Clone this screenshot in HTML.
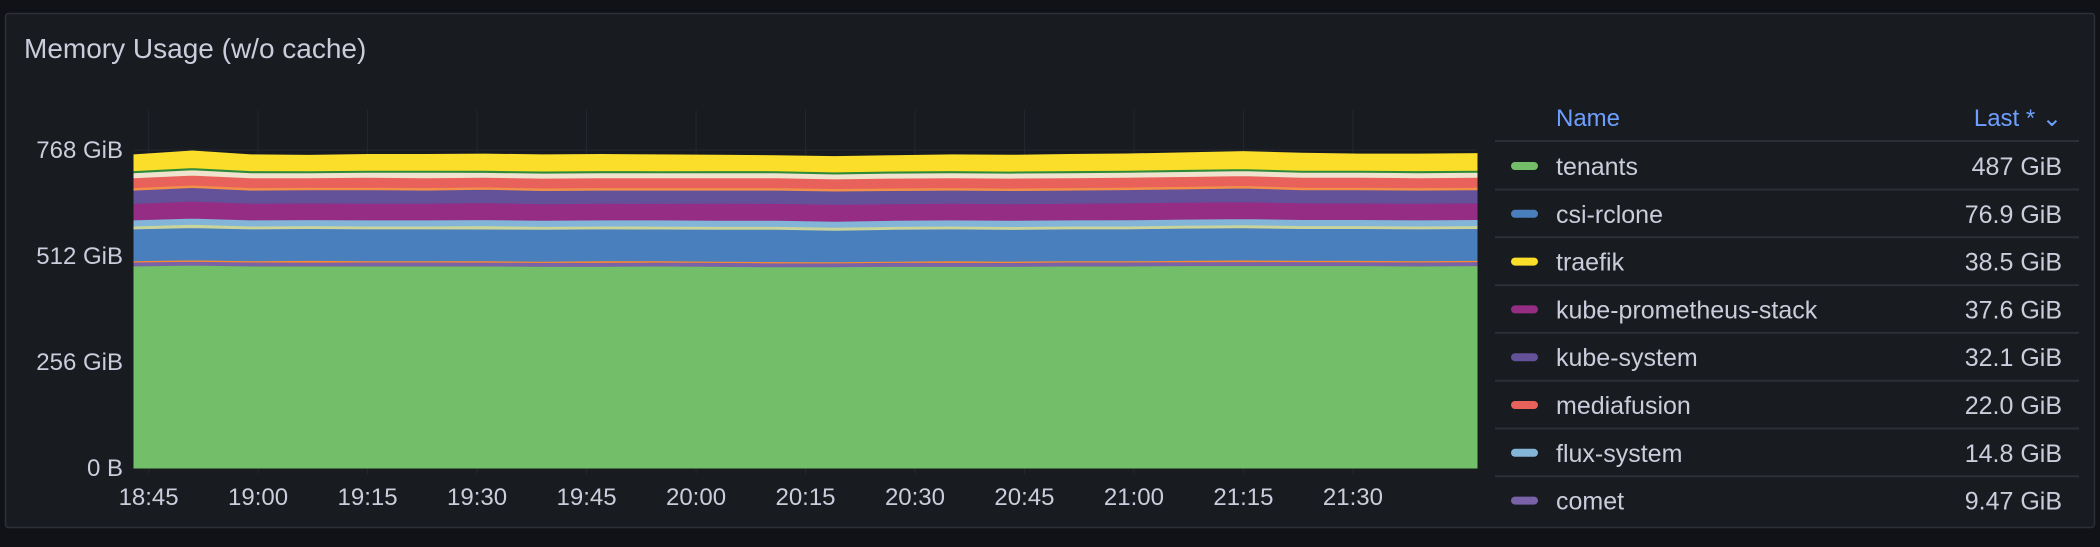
<!DOCTYPE html>
<html><head><meta charset="utf-8"><style>
html,body{margin:0;padding:0;background:#111217;}
body{width:2100px;height:542px;overflow:hidden;font-family:"Liberation Sans",sans-serif;}
svg text{font-family:"Liberation Sans",sans-serif;}
</style></head><body>
<svg id="chart" width="2100" height="542" viewBox="0 0 2100 542" xmlns="http://www.w3.org/2000/svg">
<rect x="5.5" y="13.5" width="2089" height="514" rx="3" fill="#181b1f" stroke="#2c2f35" stroke-width="1.5"/>
<text x="24" y="58" font-size="28" fill="#ccccdc" font-weight="500">Memory Usage (w/o cache)</text>
<g id="grid"></g><g id="areas"></g><g id="axes"></g><g id="legend"></g>
</svg>
<script>
const times=[0,8,16,24,32,40,48,56,64,72,80,88,96,104,112,120,128,136,144,152,160,168,176,184];
const xTickLabels=["18:45","19:00","19:15","19:30","19:45","20:00","20:15","20:30","20:45","21:00","21:15","21:30"];
const xTickMinutes=[2,17,32,47,62,77,92,107,122,137,152,167];
const yTickValues=[0,256,512,768];
const yTickLabels=["0 B","256 GiB","512 GiB","768 GiB"];
const seriesNames=["tenants","comet","other-a","csi-rclone","other-b","flux-system","kube-prometheus-stack","kube-system","other-c","mediafusion","other-d","other-e","traefik"];
const seriesColors=["#73bf69","#7a62a8","#ff8a2a","#4a7fbd","#c9d49a","#82b5d8","#952d85","#63519a","#f2904a","#e8615a","#efe3cd","#2f8a3a","#fade2a"];
const tenants=[488,490,488,488,488,488,488,487,487,488,487,486,486,487,487,487,488,488,489,489,489,489,488,489];
const comet=[9.5,9.6,9.5,9.4,9.5,9.5,9.4,9.5,9.5,9.4,9.5,9.5,9.4,9.5,9.5,9.4,9.5,9.5,9.4,9.5,9.5,9.4,9.5,9.5];
const otherA=[3,3,3,4,3,3,3,3,4,3,3,3,3,3,4,3,3,3,3,4,3,3,3,3];
const csiRclone=[77,78,77,77,77,77,77,77,77,77,77,78,76,77,77,77,77,77,78,78,77,77,77,77];
const otherB=[7,8,7,7,7,7,8,7,7,7,7,7,7,7,7,7,7,7,7,7,7,7,7,7];
const fluxSystem=[14.8,15,14.8,14.6,14.8,14.8,14.7,14.8,14.8,14.8,14.8,14.7,14.8,14.8,14.8,14.8,14.8,14.9,14.8,14.8,14.8,14.8,14.8,14.8];
const kubePrometheus=[40,41,40,40,40,40,41,40,40,40,41,41,41,40,40,40,40,41,41,41,40,40,40,40];
const kubeSystem=[32,33,32,32,33,32,32,32,32,32,32,32,32,32,32,32,32,32,32,33,32,32,32,32];
const otherC=[6,6,6,6,6,6,6,6,6,6,6,6,6,6,6,6,6,6,6,6,6,6,6,6];
const mediafusion=[24,24,24,23,24,24,23,24,24,24,24,24,23,24,24,24,24,24,24,24,24,24,24,24];
const otherD=[12,13,12,12,12,13,12,12,12,12,12,12,12,12,12,12,12,12,12,12,12,12,12,12];
const otherE=[5,5,5,5,5,5,5,5,5,5,5,5,5,5,5,5,5,5,5,5,5,5,5,5];
const traefik=[38,40,38,37,38,38,39,39,39,38,37,36,37,37,38,38,39,39,40,41,41,39,40,40];
const seriesValues=[tenants,comet,otherA,csiRclone,otherB,fluxSystem,kubePrometheus,kubeSystem,otherC,mediafusion,otherD,otherE,traefik];
const legendNames=["tenants","csi-rclone","traefik","kube-prometheus-stack","kube-system","mediafusion","flux-system","comet"];
const legendColors=["#73bf69","#4a7fbd","#fade2a","#952d85","#63519a","#e8615a","#82b5d8","#7a62a8"];
const legendValues=["487 GiB","76.9 GiB","38.5 GiB","37.6 GiB","32.1 GiB","22.0 GiB","14.8 GiB","9.47 GiB"];

const NS="http://www.w3.org/2000/svg";
const X0=134,X1=1477,Y0=468,YTOP=110,TMAX=184,PXG=0.414;
function xs(t){return X0+(t/TMAX)*(X1-X0);}
function ys(v){return Y0-v*PXG;}
function mk(tag,attrs,parent){const e=document.createElementNS(NS,tag);for(const k in attrs)e.setAttribute(k,attrs[k]);parent.appendChild(e);return e;}
const grid=document.getElementById('grid'),areas=document.getElementById('areas'),axes=document.getElementById('axes'),legend=document.getElementById('legend');

yTickValues.forEach((v,i)=>{
  const l=mk('line',{x1:X0,x2:X1,y1:ys(v),y2:ys(v),stroke:'#24272d','stroke-width':1},grid);
  
  
  const t=mk('text',{x:123,y:ys(v)+8,'text-anchor':'end','font-size':24,fill:'#ccccdc'},axes);
  t.textContent=yTickLabels[i];
  
  
});
xTickMinutes.forEach((m,i)=>{
  const l=mk('line',{x1:xs(m),x2:xs(m),y1:YTOP,y2:Y0+6,stroke:'#24272d','stroke-width':1},grid);
  
  
  const t=mk('text',{x:xs(m),y:505,'text-anchor':'middle','font-size':24,fill:'#ccccdc'},axes);
  t.textContent=xTickLabels[i];
  
  
});

let base=times.map(()=>0);
seriesValues.forEach((arr,si)=>{
  const top=arr.map((v,i)=>base[i]+v);
  let d='M'+times.map((t,i)=>xs(t).toFixed(1)+','+ys(top[i]).toFixed(1)).join('L');
  for(let i=times.length-1;i>=0;i--)d+='L'+xs(times[i]).toFixed(1)+','+ys(base[i]).toFixed(1);
  d+='Z';
  const p=mk('path',{d:d,fill:seriesColors[si],stroke:seriesColors[si],'stroke-width':1},areas);
  
  
  base=top;
});

const hn=mk('text',{x:1556,y:126,'font-size':24,fill:'#6e9fff'},legend);
hn.textContent='Name';


const hl=mk('text',{x:2062,y:126,'text-anchor':'end','font-size':24,fill:'#6e9fff'},legend);
hl.textContent='Last * ⌄';


const hline=mk('line',{x1:1495,x2:2079,y1:141,y2:141,stroke:'#2c2f35','stroke-width':2},legend);


legendNames.forEach((n,i)=>{
  const cy=166+i*47.8;
  const sw=mk('rect',{x:1511,y:cy-4,width:27,height:8,rx:4,fill:legendColors[i]},legend);
  
  
  const t=mk('text',{x:1556,y:cy+9,'font-size':25,fill:'#ccccdc'},legend);
  t.textContent=n;
  
  
  const v=mk('text',{x:2062,y:cy+9,'text-anchor':'end','font-size':25,fill:'#ccccdc'},legend);
  v.textContent=legendValues[i];
  
  
  if(i<legendNames.length-1){
    const l=mk('line',{x1:1495,x2:2079,y1:cy+23.5,y2:cy+23.5,stroke:'#2c2f35','stroke-width':2},legend);
    
    
  }
});
</script>
</body></html>
